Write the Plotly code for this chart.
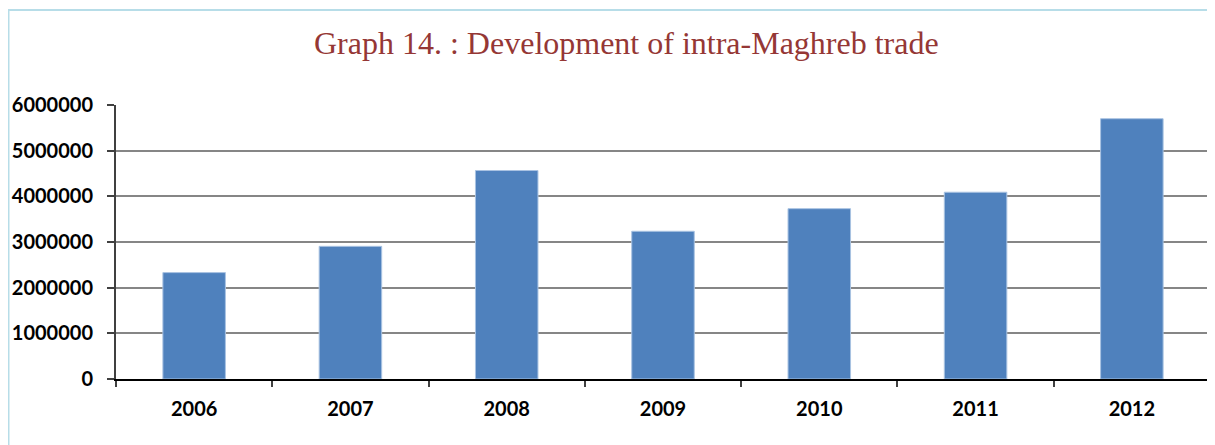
import plotly.graph_objects as go

years = ["2006", "2007", "2008", "2009", "2010", "2011", "2012"]
trade = [2330000, 2905000, 4565000, 3235000, 3730000, 4090000, 5700000]
y_ticks = [0, 1000000, 2000000, 3000000, 4000000, 5000000, 6000000]
title_text = "Graph 14. : Development of intra-Maghreb trade"

# page body has an 8px margin; figure origin is at (8, 8) in the window
OFF = 8
W, H = 1207, 437
L, R, T, B = 108, 5, 97, 66

def px_x(p):  # window pixel -> paper
    return (p - OFF - L) / (W - L - R)

def px_y(p):
    return (H - B - (p - OFF)) / (H - T - B)

fig = go.Figure(go.Bar(
    x=years, y=trade,
    marker=dict(color="#4F81BD", line=dict(color="#A9C3E2", width=1)),
    hoverinfo="x+y",
))

fig.update_layout(
    width=W, height=H,
    margin=dict(l=L, r=R, t=T, b=B, pad=0, autoexpand=False),
    paper_bgcolor="white", plot_bgcolor="white",
    bargap=0.6,
    showlegend=False,
    font=dict(family="Lato", color="black"),
)

fig.update_xaxes(
    type="category", automargin=False,
    showline=True, linecolor="black", linewidth=1.5,
    ticks="outside", tickson="boundaries", ticklen=6, tickcolor="#404040", tickwidth=1.5,
    tickfont=dict(family="Lato", size=20, color="black", weight="bold"),
    ticklabelstandoff=11,
    showgrid=False,
)

fig.update_yaxes(
    range=[0, 6000000], automargin=False,
    tickvals=y_ticks, ticktext=[str(v) for v in y_ticks],
    showline=True, linecolor="#404040", linewidth=2,
    ticks="outside", ticklen=7, tickcolor="#404040", tickwidth=1.5,
    tickfont=dict(family="Lato", size=20, color="black", weight="bold"),
    ticklabelstandoff=10,
    showgrid=True, gridcolor="#868686", gridwidth=1.5,
    zeroline=False,
)

# plot area border (right side) and outer frame
fig.add_shape(type="line", xref="x domain", yref="y domain", x0=1, x1=1, y0=0, y1=1,
              line=dict(color="#868686", width=2))
fig.add_shape(type="rect", xref="paper", yref="paper",
              x0=px_x(8.5), x1=px_x(1260), y0=px_y(480), y1=px_y(10),
              line=dict(color="#B7DDE8", width=2), layer="below")

fig.add_annotation(
    text=title_text, xref="paper", yref="paper",
    x=px_x(626), y=px_y(43), xanchor="center", yanchor="middle",
    showarrow=False,
    font=dict(family="Liberation Serif", size=32, color="#953735"),
)

fig.write_html("out.html")
